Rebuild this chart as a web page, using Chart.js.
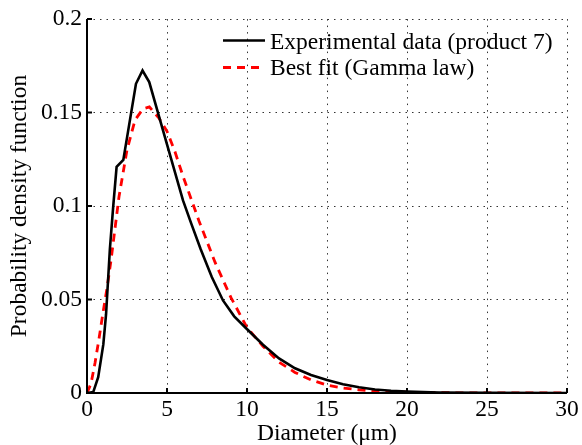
<!DOCTYPE html>
<html>
<head>
<meta charset="utf-8">
<script src="https://cdn.jsdelivr.net/npm/chart.js@4/dist/chart.umd.min.js"></script>
<style>
  html, body { margin: 0; padding: 0; background: #fff; }
  #c { display: block; }
</style>
</head>
<body>
<canvas id="c" width="582" height="445"></canvas>
<script>
// ---- data ----
const expX = [0, 0.39, 0.7, 1.02, 1.19, 1.43, 1.64, 1.85, 2.27, 3.06, 3.47, 3.89, 5.0, 6.0, 6.5, 7.1, 7.8, 8.5, 9.2, 9.96, 11, 12, 13, 14, 15, 16, 17, 18, 19, 20, 22, 25, 30];
const expY = [0, 0.0005, 0.0085, 0.026, 0.042, 0.077, 0.100, 0.121, 0.1247, 0.1654, 0.1725, 0.1663, 0.133, 0.103, 0.091, 0.077, 0.062, 0.0495, 0.041, 0.0345, 0.0258, 0.0185, 0.0132, 0.0096, 0.0069, 0.0047, 0.0031, 0.0019, 0.0012, 0.0008, 0.0003, 0.0001, 0];

const fitX = [0, 0.25, 0.5, 0.75, 1, 1.25, 1.5, 2, 2.5, 3, 3.5, 3.9, 4.5, 5, 5.5, 6, 7, 8, 9, 10, 11, 12, 13, 14, 15, 16, 17, 18, 20, 22, 25, 30];
const fitY = [0, 0.005, 0.016, 0.029, 0.043, 0.056, 0.071, 0.105, 0.130, 0.146, 0.152, 0.153, 0.147, 0.140, 0.129, 0.116, 0.092, 0.0700, 0.051, 0.035, 0.025, 0.0165, 0.011, 0.007, 0.0042, 0.0027, 0.0017, 0.001, 0.0004, 0.00015, 0.00003, 0];

const xTicks = [0, 5, 10, 15, 20, 25, 30];
const xTickLabels = ["0", "5", "10", "15", "20", "25", "30"];
const yTicks = [0, 0.05, 0.1, 0.15, 0.2];
const yTickLabels = ["0", "0.05", "0.1", "0.15", "0.2"];

const seriesNames = ["Experimental data (product 7)", "Best fit (Gamma law)"];
const xTitle = "Diameter (\u03BCm)";
const yTitle = "Probability density function";

// ---- styling ----
const FONT = "'Liberation Serif', 'Times New Roman', serif";
const FS = 23.5;

function pts(xs, ys) { return xs.map((x, i) => ({ x: x, y: ys[i] })); }

const axesPlugin = {
  id: 'axesPlugin',
  afterDatasetsDraw(chart) {
    const { ctx, chartArea: a, scales } = chart;
    ctx.save();
    ctx.strokeStyle = '#000';
    ctx.lineWidth = 2;
    ctx.setLineDash([]);
    ctx.beginPath();
    ctx.moveTo(a.left, a.top);
    ctx.lineTo(a.left, a.bottom);
    ctx.lineTo(a.right, a.bottom);
    ctx.stroke();
    ctx.beginPath();
    xTicks.forEach(v => {
      const px = scales.x.getPixelForValue(v);
      ctx.moveTo(px, a.bottom);
      ctx.lineTo(px, a.bottom - 5);
    });
    yTicks.forEach(v => {
      const py = scales.y.getPixelForValue(v);
      ctx.moveTo(a.left, py);
      ctx.lineTo(a.left + 5, py);
    });
    ctx.stroke();
    ctx.restore();
  },
  afterDraw(chart) {
    const { ctx } = chart;
    const ds = chart.data.datasets;
    ctx.save();
    ctx.font = FS + 'px ' + FONT;
    ctx.textBaseline = 'alphabetic';
    ctx.textAlign = 'left';
    const rows = [{ line: 40.5, base: 48.5 }, { line: 67.5, base: 74.5 }];
    ds.forEach((d, i) => {
      ctx.strokeStyle = d.borderColor;
      ctx.lineWidth = d.borderWidth;
      ctx.setLineDash(d.borderDash || []);
      ctx.beginPath();
      ctx.moveTo(223, rows[i].line);
      ctx.lineTo(265, rows[i].line);
      ctx.stroke();
      ctx.setLineDash([]);
      ctx.fillStyle = '#000';
      ctx.fillText(d.label, 270, rows[i].base);
    });
    ctx.restore();
  }
};

new Chart(document.getElementById('c'), {
  type: 'line',
  data: {
    datasets: [
      {
        label: seriesNames[0],
        data: pts(expX, expY),
        borderColor: '#000000',
        borderWidth: 2.6,
        pointRadius: 0,
        tension: 0,
        fill: false
      },
      {
        label: seriesNames[1],
        data: pts(fitX, fitY),
        borderColor: '#ff0000',
        borderWidth: 2.8,
        borderDash: [8, 6],
        pointRadius: 0,
        tension: 0,
        fill: false
      }
    ]
  },
  options: {
    responsive: false,
    animation: false,
    devicePixelRatio: 1,
    layout: { padding: { left: 0, right: 15, top: 17, bottom: 0 } },
    plugins: {
      legend: { display: false },
      tooltip: { enabled: false }
    },
    scales: {
      x: {
        type: 'linear',
        min: 0, max: 30,
        afterBuildTicks(s) { s.ticks = xTicks.map(v => ({ value: v })); },
        afterFit(s) { s.height = 52; },
        ticks: {
          color: '#000',
          font: { family: FONT, size: FS },
          padding: 3,
          maxRotation: 0,
          callback(v) { const i = xTicks.indexOf(v); return i >= 0 ? xTickLabels[i] : ''; }
        },
        grid: { color: '#333', lineWidth: 1, drawTicks: false },
        border: { display: false, dash: [1.5, 5] },
        title: {
          display: true, text: xTitle, color: '#000',
          font: { family: FONT, size: FS },
          padding: { top: 0, bottom: -3 }
        }
      },
      y: {
        type: 'linear',
        min: 0, max: 0.2,
        afterBuildTicks(s) { s.ticks = yTicks.map(v => ({ value: v })); },
        afterFit(s) { s.width = 87; },
        ticks: {
          color: '#000',
          font: { family: FONT, size: FS },
          padding: 5,
          callback(v) { const i = yTicks.findIndex(t => Math.abs(t - v) < 1e-9); return i >= 0 ? yTickLabels[i] : ''; }
        },
        grid: { color: '#333', lineWidth: 1, drawTicks: false },
        border: { display: false, dash: [1.5, 5] },
        title: {
          display: true, text: yTitle, color: '#000',
          font: { family: FONT, size: FS },
          padding: { top: 6, bottom: 0 }
        }
      }
    }
  },
  plugins: [axesPlugin]
});
</script>
</body>
</html>
